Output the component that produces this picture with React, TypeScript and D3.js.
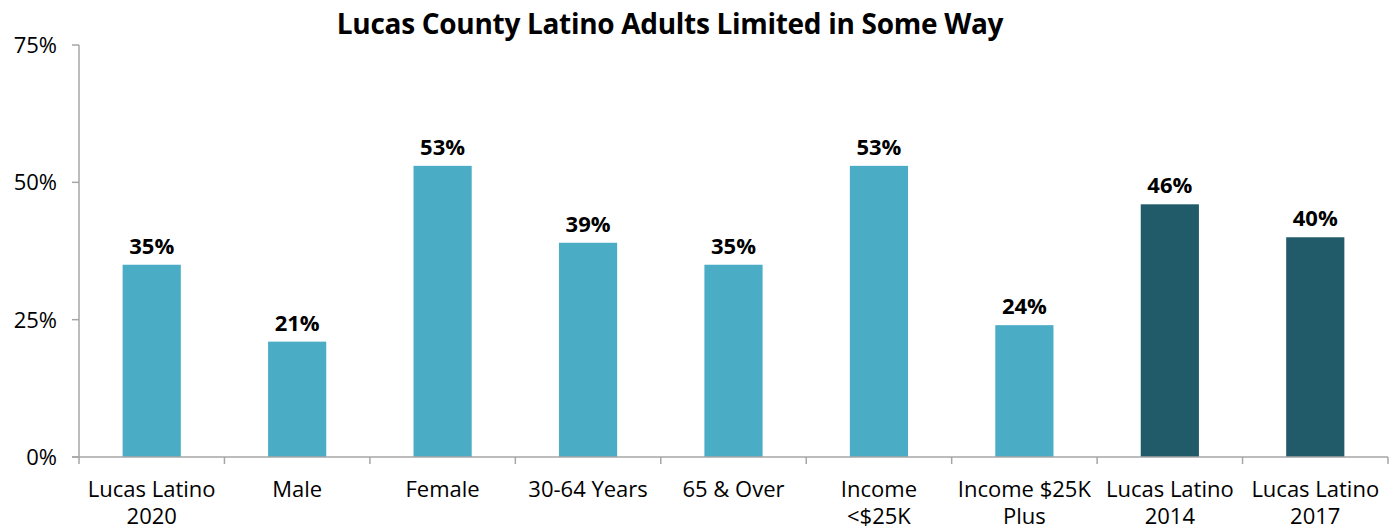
import React from "react";
import * as d3 from "d3";

const categories = [
  ["Lucas Latino", "2020"],
  ["Male"],
  ["Female"],
  ["30-64 Years"],
  ["65 & Over"],
  ["Income", "<$25K"],
  ["Income $25K", "Plus"],
  ["Lucas Latino", "2014"],
  ["Lucas Latino", "2017"],
];
const values = [35, 21, 53, 39, 35, 53, 24, 46, 40];
const barColors = ["#4BACC6", "#4BACC6", "#4BACC6", "#4BACC6", "#4BACC6", "#4BACC6", "#4BACC6", "#215A69", "#215A69"];
const yTicks = [0, 25, 50, 75];
const title = "Lucas County Latino Adults Limited in Some Way";

const W = 1395;
const H = 531;
const left = 79;
const right = 1388;
const top = 45;
const bottom = 457;
const font = "'Open Sans', sans-serif";

export default function App() {
  const x = d3.scaleBand<number>().domain(values.map((_, i) => i)).range([left, right]).paddingInner(0.6).paddingOuter(0.3);
  const y = d3.scaleLinear().domain([0, 75]).range([bottom, top]);
  const step = (right - left) / values.length;
  const axisColor = "#A6A6A6";
  return (
    <svg width={W} height={H} style={{ position: "absolute", left: 0, top: 0 }}>
      <text x={670} y={34} textAnchor="middle" fontFamily={font} fontWeight="bold" fontSize={28} letterSpacing={-0.3} fill="#000">
        {title}
      </text>
      {values.map((v, i) => (
        <g key={i}>
          <rect x={x(i)} y={y(v)} width={x.bandwidth()} height={bottom - y(v)} fill={barColors[i]} />
          <text x={x(i)! + x.bandwidth() / 2} y={y(v) - 11} textAnchor="middle" fontFamily={font} fontWeight="bold" fontSize={22} fill="#000">
            {v}%
          </text>
        </g>
      ))}
      <line x1={left} x2={left} y1={top} y2={bottom} stroke={axisColor} strokeWidth={1.5} />
      {yTicks.map((t) => (
        <g key={t}>
          <line x1={left - 7} x2={left} y1={y(t)} y2={y(t)} stroke={axisColor} strokeWidth={1.5} />
          <text x={57} y={y(t) + 8} textAnchor="end" fontFamily={font} fontSize={22} fill="#000">
            {t}%
          </text>
        </g>
      ))}
      <line x1={left - 7} x2={right} y1={bottom} y2={bottom} stroke={axisColor} strokeWidth={1.5} />
      {d3.range(values.length + 1).map((i) => (
        <line key={i} x1={left + step * i} x2={left + step * i} y1={bottom} y2={bottom + 7} stroke={axisColor} strokeWidth={1.5} />
      ))}
      {categories.map((lines, i) => (
        <text key={i} textAnchor="middle" fontFamily={font} fontSize={22} fill="#000">
          {lines.map((l, j) => (
            <tspan key={j} x={left + step * (i + 0.5)} y={497 + j * 27}>
              {l}
            </tspan>
          ))}
        </text>
      ))}
    </svg>
  );
}
